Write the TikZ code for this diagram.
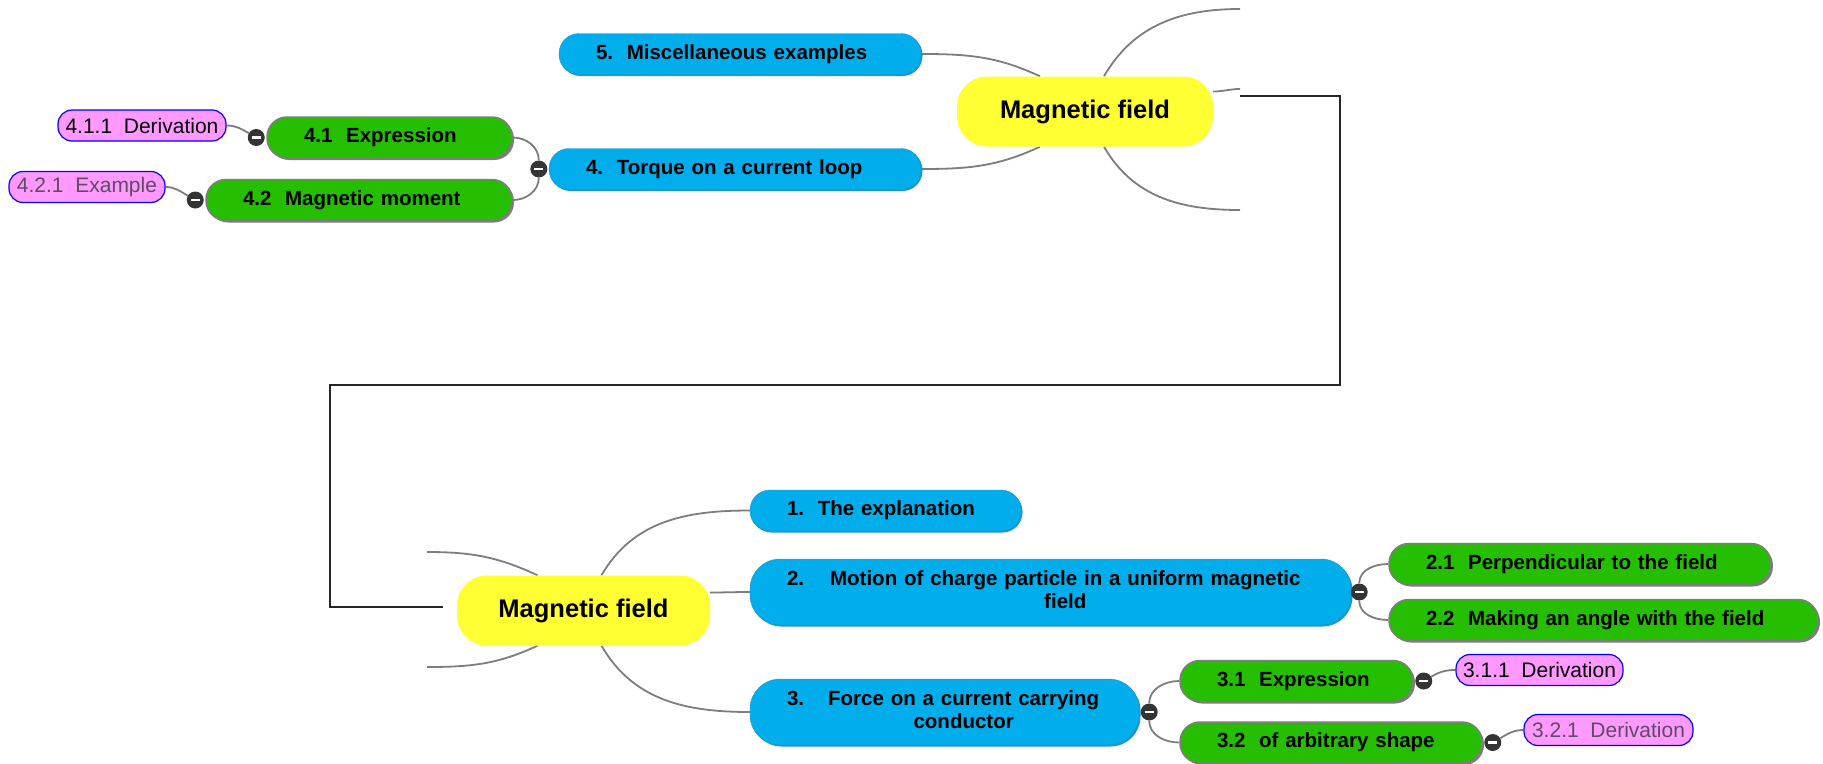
\documentclass[tikz,border=0pt]{standalone}
\usepackage{fontspec}
\setmainfont{Liberation Sans}
\usetikzlibrary{backgrounds,shadows}

\definecolor{rootyellow}{RGB}{255,255,51}
\definecolor{topicblue}{RGB}{2,173,235}
\definecolor{topicedge}{RGB}{30,150,205}
\definecolor{subgreen}{RGB}{38,190,0}
\definecolor{detailpink}{RGB}{255,153,255}
\definecolor{detailgray}{RGB}{90,78,95}
\definecolor{branchgray}{RGB}{125,125,125}
\definecolor{knob}{RGB}{52,52,52}

\begin{document}
\begin{tikzpicture}[x=1pt,y=-1pt]

    \tikzset{
      central/.style={
        fill=rootyellow,
        rounded corners=30pt,
        minimum height=70pt,
        inner sep=0pt,
        font=\fontsize{25.5}{29}\selectfont\bfseries,
      },
      topic/.style={
        fill=topicblue,
        draw=topicedge,
        rounded corners=20pt,
        minimum height=41pt,
        inner xsep=37pt,
        inner ysep=0pt,
        align=left,
        font=\fontsize{20.5}{23}\selectfont\bfseries,
        drop shadow={shadow xshift=1.5pt,shadow yshift=-1.5pt,fill=topicedge,opacity=1},
      },
      subtopic/.style={
        fill=subgreen,
        draw=branchgray,
        line width=1.5pt,
        rounded corners=20pt,
        minimum height=41pt,
        inner xsep=37pt,
        inner ysep=0pt,
        align=left,
        font=\fontsize{20.5}{23}\selectfont\bfseries,
        drop shadow={shadow xshift=2pt,shadow yshift=-2pt,fill=branchgray,opacity=1},
      },
      detail/.style={
        fill=detailpink,
        draw=blue,
        line width=1.2pt,
        rounded corners=14pt,
        minimum height=31pt,
        inner xsep=4pt,
        inner ysep=0pt,
        font=\fontsize{21}{24}\selectfont,
      },
      branch/.style={draw=branchgray, line width=1.8pt},
      minus/.style={
        circle,
        fill=knob,
        minimum size=17pt,
        inner sep=0pt,
        path picture={\draw[white,line width=2.2pt]
          ([xshift=-4.5pt]path picture bounding box.center) --
          ([xshift=4.5pt]path picture bounding box.center);},
      },
    }
    \useasboundingbox (0,0) rectangle (1823,763);

    % upper map
    \node[central, minimum width=256pt] (rootA) at (1085,111.5) {Magnetic field};
    \node[topic, text width=288pt] (n5) at (740,54) {5.\ \ Miscellaneous examples};
    \node[topic, text width=298pt] (n4) at (735,169) {4.\ \ Torque on a current loop};
    \node[subtopic, text width=171pt] (n41) at (389.5,137.5) {4.1\ \ Expression};
    \node[subtopic, text width=232pt] (n42) at (359,200) {4.2\ \ Magnetic moment};
    \node[detail, minimum width=168pt] (n411) at (142,125.5) {4.1.1\ \ Derivation};
    \node[detail, minimum width=156pt, text=detailgray] (n421) at (87,187) {4.2.1\ \ Example};

    % lower map
    \node[central, minimum width=253pt] (rootB) at (583.5,610.5) {Magnetic field};
    \node[topic, text width=197pt] (n1) at (885.5,510.5) {1.\ \ The explanation};
    \node[topic, text width=527pt, minimum height=66pt, rounded corners=30pt] (n2) at (1050.5,592)
      {2.\hspace{26pt}\begin{tabular}[t]{@{}c@{}}Motion of charge particle in a uniform magnetic\\field\end{tabular}};
    \node[topic, text width=315pt, minimum height=66pt, rounded corners=30pt] (n3) at (944.5,712)
      {3.\hspace{24pt}\begin{tabular}[t]{@{}c@{}}Force on a current carrying\\conductor\end{tabular}};
    \node[subtopic, text width=308pt] (n21) at (1580,564) {2.1\ \ Perpendicular to the field};
    \node[subtopic, text width=355pt] (n22) at (1603.5,620) {2.2\ \ Making an angle with the field};
    \node[subtopic, text width=159pt] (n31) at (1296.5,681) {3.1\ \ Expression};
    \node[subtopic, text width=228pt] (n32) at (1331,742.5) {3.2\ \ of arbitrary shape};
    \node[detail, minimum width=167pt] (n311) at (1539.5,670) {3.1.1\ \ Derivation};
    \node[detail, minimum width=169pt, text=detailgray] (n321) at (1608.5,730) {3.2.1\ \ Derivation};

    % collapse knobs
    \node[minus] (m4) at ([xshift=-10pt]n4.west) {};
    \node[minus] (m41) at ([xshift=-10pt]n41.west) {};
    \node[minus] (m42) at ([xshift=-10pt]n42.west) {};
    \node[minus] (m2) at ([xshift=8pt]n2.east) {};
    \node[minus] (m3) at ([xshift=10pt]n3.east) {};
    \node[minus] (m31) at ([xshift=10pt]n31.east) {};
    \node[minus] (m32) at ([xshift=10pt]n32.east) {};

    % loose ends
    \coordinate (armA) at (1240,9);
    \coordinate (armB) at (1240,89);
    \coordinate (armC) at (1240,210);
    \coordinate (linkA) at (1240,96);
    \coordinate (armD) at (427,552);
    \coordinate (armE) at (427,667);
    \coordinate (linkB) at (443,607);

    \begin{pgfonlayer}{background}
      \draw[branch] (n5.east) to[out=0,in=155] ([xshift=-45pt]rootA.north);
      \draw[branch] (n4.east) to[out=0,in=205] ([xshift=-45pt]rootA.south);
      \draw[branch] ([xshift=19pt]rootA.north) to[out=60,in=180] (armA);
      \draw[branch] ([yshift=20pt]rootA.east) to[out=0,in=180] (armB);
      \draw[branch] ([xshift=19pt]rootA.south) to[out=-60,in=180] (armC);
      \draw[branch] (m4) to[out=90,in=0] (n41.east);
      \draw[branch] (m4) to[out=-90,in=0] (n42.east);
      \draw[branch] (m41) to[out=150,in=0] (n411.east);
      \draw[branch] (m42) to[out=150,in=0] (n421.east);

      \draw[branch] (armD) to[out=0,in=155] ([xshift=-46pt]rootB.north);
      \draw[branch] (armE) to[out=0,in=205] ([xshift=-46pt]rootB.south);
      \draw[branch] ([xshift=18pt]rootB.north) to[out=60,in=180] (n1.west);
      \draw[branch] ([yshift=18pt]rootB.east) to[out=0,in=180] (n2.west);
      \draw[branch] ([xshift=18pt]rootB.south) to[out=-60,in=180] (n3.west);
      \draw[branch] (m2) to[out=90,in=180] (n21.west);
      \draw[branch] (m2) to[out=-90,in=180] (n22.west);
      \draw[branch] (m3) to[out=90,in=180] (n31.west);
      \draw[branch] (m3) to[out=-90,in=180] (n32.west);
      \draw[branch] (m31) to[out=30,in=180] (n311.west);
      \draw[branch] (m32) to[out=30,in=180] (n321.west);
    \end{pgfonlayer}

    % link between the two maps
    \draw[line width=2.4pt, black!85] (linkA) -| (1340,385) -| (330,607) -- (linkB);

\end{tikzpicture}
\end{document}
